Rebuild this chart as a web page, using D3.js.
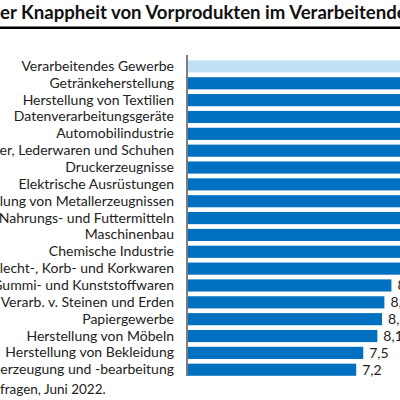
<!DOCTYPE html>
<html lang="de">
<head>
  <meta charset="UTF-8">
  <title>Knappheit Vorprodukte</title>
  <script src="https://d3js.org/d3.v7.min.js"></script>
  <style>
    body { margin: 0; background: #fff; }
    svg { display: block; font-family: Lato, "Open Sans", sans-serif; }
  </style>
</head>
<body>
  <svg id="chart" width="400" height="400"></svg>
  <script>
    // data (Monate, ifo Umfrage Juni 2022)
    const branchen = [
      "Verarbeitendes Gewerbe",
      "Getränkeherstellung",
      "Herstellung von Textilien",
      "Datenverarbeitungsgeräte",
      "Automobilindustrie",
      "Herstellung von Leder, Lederwaren und Schuhen",
      "Druckerzeugnisse",
      "Elektrische Ausrüstungen",
      "Herstellung von Metallerzeugnissen",
      "Herstellung von Nahrungs- und Futtermitteln",
      "Maschinenbau",
      "Chemische Industrie",
      "Holz-, Flecht-, Korb- und Korkwaren",
      "Herstellung von Gummi- und Kunststoffwaren",
      "Glas, Keramik, Verarb. v. Steinen und Erden",
      "Papiergewerbe",
      "Herstellung von Möbeln",
      "Herstellung von Bekleidung",
      "Metallerzeugung und -bearbeitung"
    ];
    const monate = [9.6, 13.4, 12.8, 12.3, 11.9, 11.5, 11.2, 10.9, 10.5, 10.2, 10.0, 9.8, 9.4, 8.7, 8.4, 8.3, 8.1, 7.5, 7.2];
    const titel = "Dauer der Knappheit von Vorprodukten im Verarbeitenden Gewerbe";
    const quelle = "Quelle: ifo Konjunkturumfragen, Juni 2022.";

    const svg = d3.select("#chart");
    const margin = { top: 58, left: 187, bottom: 26 };
    const x0 = margin.left;

    // title, cut off on the left like the reference crop
    const t = svg.append("text")
      .attr("y", 19)
      .attr("font-size", 18.6)
      .attr("font-weight", "bold")
      .attr("fill", "#111")
      .text(titel);
    t.attr("x", -t.node().getSubStringLength(0, 7));

    svg.append("line")
      .attr("x1", 0).attr("x2", 400)
      .attr("y1", 27.8).attr("y2", 27.8)
      .attr("stroke", "#000")
      .attr("stroke-width", 2.5);

    const y = d3.scaleBand()
      .domain(branchen)
      .range([margin.top, 58 + 19 * 16.85])
      .paddingInner(0.28)
      .paddingOuter(0.14);

    const x = d3.scaleLinear()
      .domain([0, 10])
      .range([x0, x0 + 235]);

    svg.selectAll("rect.bar").data(branchen)
      .join("rect")
      .attr("class", "bar")
      .attr("x", x(0) + 0.8)
      .attr("y", d => y(d))
      .attr("height", y.bandwidth())
      .attr("width", (d, i) => x(monate[i]) - x(0) - 0.8)
      .attr("fill", (d, i) => i === 0 ? "#C2E1F7" : "#0070C0");

    svg.selectAll("text.wert").data(branchen)
      .join("text")
      .attr("class", "wert")
      .attr("x", (d, i) => x(monate[i]) + 6)
      .attr("y", d => y(d) + y.bandwidth() / 2)
      .attr("dy", "0.35em")
      .attr("font-size", 14)
      .attr("fill", "#222")
      .text((d, i) => d3.format(".1f")(monate[i]).replace(".", ","));

    // category axis
    const axis = svg.append("g")
      .attr("transform", `translate(${x0},0)`)
      .call(d3.axisLeft(y).tickSize(0).tickPadding(13));
    axis.select(".domain")
      .attr("stroke", "#555")
      .attr("stroke-width", 1.5)
      .attr("d", `M0,55V376`);
    axis.selectAll("text")
      .attr("font-family", "Lato, sans-serif")
      .attr("font-size", 14)
      .attr("fill", "#222");

    const q = svg.append("text")
      .attr("y", 394)
      .attr("font-size", 13.5)
      .attr("fill", "#222")
      .text(quelle);
    q.attr("x", -q.node().getSubStringLength(0, quelle.indexOf("fragen")));
  </script>
</body>
</html>
